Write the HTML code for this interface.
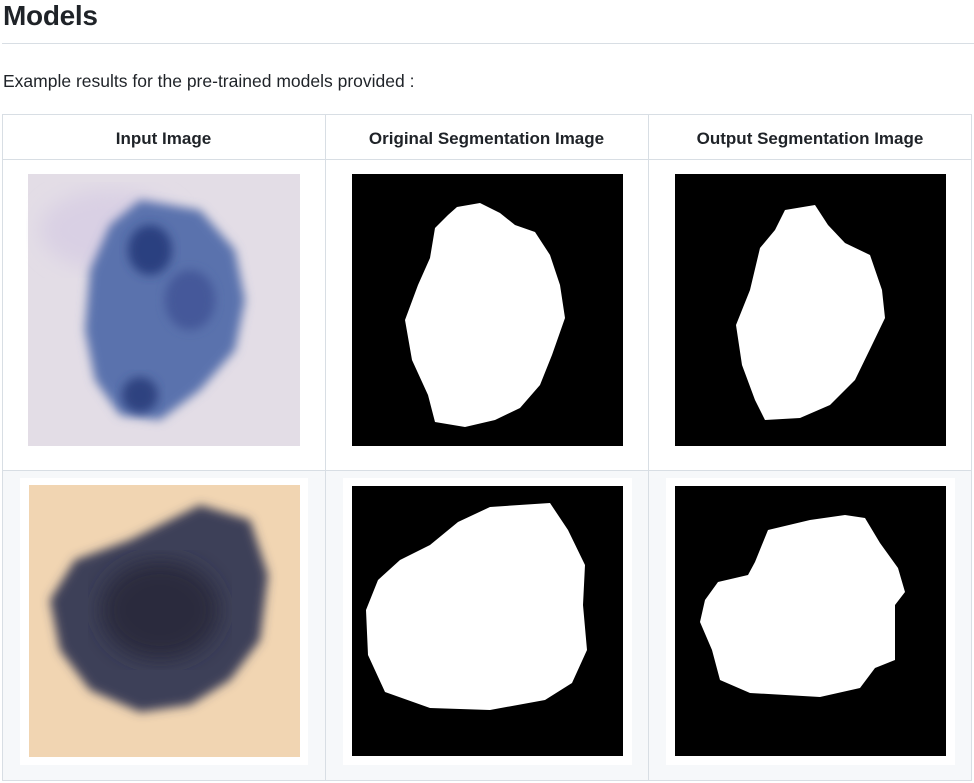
<!DOCTYPE html>
<html><head><meta charset="utf-8"><style>
body{margin:0;width:974px;height:783px;background:#fff;font-family:"Liberation Sans","DejaVu Sans",sans-serif;color:#1f2328;position:relative;overflow:hidden}
.a{position:absolute}
h1{position:absolute;left:3px;top:0px;margin:0;font-size:28px;font-weight:600;letter-spacing:-0.3px}
.th{position:absolute;top:115px;height:45px;line-height:47px;text-align:center;font-weight:bold;font-size:17px}
</style></head><body>
<h1>Models</h1>
<div class="a" style="left:2px;top:43px;width:972px;height:1px;background:#d8dee4"></div>
<div class="a" style="left:3px;top:71px;font-size:17.5px">Example results for the pre-trained models provided :</div>

<div class="a" style="left:2px;top:114px;width:970px;height:667px;border:1px solid #d8dee4;box-sizing:border-box"></div>
<div class="a" style="left:3px;top:471px;width:968px;height:309px;background:#f6f8fa"></div>
<div class="a" style="left:2px;top:159px;width:970px;height:1px;background:#d8dee4"></div>
<div class="a" style="left:2px;top:470px;width:970px;height:1px;background:#d8dee4"></div>
<div class="a" style="left:325px;top:114px;width:1px;height:667px;background:#d8dee4"></div>
<div class="a" style="left:648px;top:114px;width:1px;height:667px;background:#d8dee4"></div>

<div class="th" style="left:2px;width:323px">Input Image</div>
<div class="th" style="left:325px;width:323px">Original Segmentation Image</div>
<div class="th" style="left:648px;width:324px">Output Segmentation Image</div>

<div class="a" style="left:20px;top:478px;width:288px;height:287px;background:#fff"></div>
<div class="a" style="left:343px;top:478px;width:289px;height:287px;background:#fff"></div>
<div class="a" style="left:666px;top:478px;width:289px;height:287px;background:#fff"></div>

<svg class="a" style="left:0;top:0" width="974" height="783">
<defs>
<filter id="bl" x="-20%" y="-20%" width="140%" height="140%"><feGaussianBlur stdDeviation="5"/></filter>
<filter id="bl2"><feGaussianBlur stdDeviation="10"/></filter>
</defs>
<g>
<rect x="28" y="174" width="272" height="272" fill="#e3dde6"/>
<ellipse cx="110" cy="230" rx="70" ry="40" fill="#d9d0e4" filter="url(#bl2)"/>
<path d="M140 200 L200 210 L235 250 L245 300 L235 350 L200 390 L160 420 L120 415 L95 380 L85 330 L90 270 L110 225 Z" fill="#5a72ad" filter="url(#bl)"/>
<ellipse cx="150" cy="250" rx="22" ry="25" fill="#2c4080" filter="url(#bl)"/>
<ellipse cx="140" cy="395" rx="18" ry="18" fill="#2f4280" filter="url(#bl)"/>
<ellipse cx="190" cy="300" rx="25" ry="30" fill="#44599a" filter="url(#bl)"/>
</g>
<g>
<rect x="29" y="485" width="271" height="272" fill="#f1d5b2"/>
<path d="M130 540 L200 505 L250 520 L268 575 L260 640 L230 680 L190 705 L140 712 L90 690 L60 650 L50 600 L75 560 Z" fill="#3c3f58" filter="url(#bl)"/>
<ellipse cx="160" cy="610" rx="60" ry="50" fill="#2b2b3c" filter="url(#bl2)"/>
</g>
<g>
<rect x="352" y="174" width="271" height="272" fill="#000"/>
<path d="M457 207 L480 203 L500 213 L515 225 L535 232 L550 255 L560 285 L565 318 L552 355 L540 385 L520 408 L495 420 L465 427 L435 422 L428 395 L412 360 L405 320 L418 285 L430 258 L435 228 L448 215 Z" fill="#fff"/>
</g>
<g>
<rect x="675" y="174" width="271" height="272" fill="#000"/>
<path d="M785 210 L815 205 L828 225 L845 243 L870 255 L882 290 L885 318 L872 345 L855 380 L830 405 L800 418 L765 420 L755 400 L742 365 L736 325 L750 290 L760 248 L775 230 Z" fill="#fff"/>
</g>
<g>
<rect x="352" y="486" width="271" height="270" fill="#000"/>
<path d="M458 522 L490 507 L550 503 L568 530 L585 565 L583 605 L587 650 L572 683 L545 700 L490 710 L430 708 L385 692 L368 655 L366 610 L378 580 L400 560 L430 545 Z" fill="#fff"/>
</g>
<g>
<rect x="675" y="486" width="271" height="270" fill="#000"/>
<path d="M768 530 L810 520 L845 515 L865 518 L880 543 L898 568 L905 592 L895 605 L895 660 L875 668 L860 688 L820 697 L750 693 L720 680 L712 650 L700 622 L705 600 L718 582 L748 575 L755 562 Z" fill="#fff"/>
</g>
</svg>
</body></html>
